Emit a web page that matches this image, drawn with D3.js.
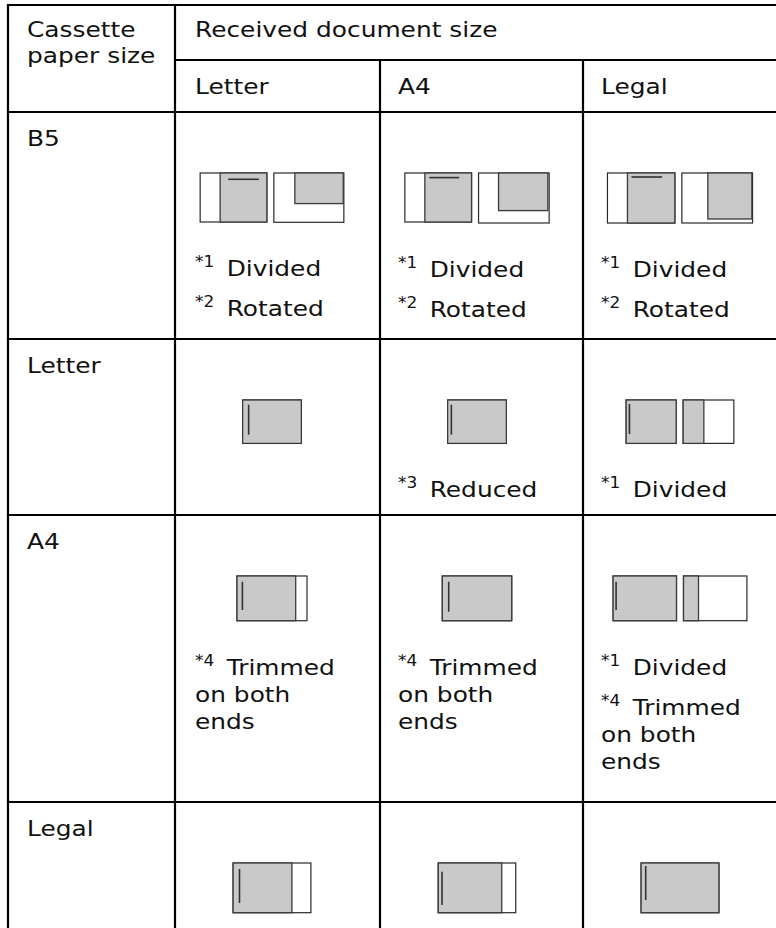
<!DOCTYPE html>
<html><head><meta charset="utf-8">
<script src="https://cdn.jsdelivr.net/npm/d3@7"></script>
<style>html,body{margin:0;padding:0;background:#fff;} svg{display:block;}</style>
</head><body>
<svg id="chart" width="776" height="928"></svg>
<script>
// ---------- data ----------
const cassetteSizes = ["B5", "Letter", "A4", "Legal"];
const receivedSizes = ["Letter", "A4", "Legal"];
const cornerHeader = ["Cassette", "paper size"];
const topHeader = "Received document size";
// notes per cell [row][col]: each note = [footnote mark, ...text lines]
const cellNotes = [
  [[["1","Divided"],["2","Rotated"]], [["1","Divided"],["2","Rotated"]], [["1","Divided"],["2","Rotated"]]],
  [[], [["3","Reduced"]], [["1","Divided"]]],
  [[["4","Trimmed","on both","ends"]], [["4","Trimmed","on both","ends"]], [["1","Divided"],["4","Trimmed","on both","ends"]]],
  [[], [], []]
];
// page pictograms per cell [row][col]: list of pages
// page = {w,h, g:[gx,gy,gw,gh] gray area, l:[x1,y1,x2,y2] printed line}
const cellPages = [
  [
    [{w:66.7,h:49,g:[20,0,46.7,49],l:[28,6.3,58.7,6.3]}, {w:70,h:49.3,g:[21,0,48.4,30.6]}],
    [{w:66.7,h:49,g:[20,0,46.7,49],l:[24.4,4.6,54.4,4.6]}, {w:70.6,h:50,g:[20,0,49.3,37.6]}],
    [{w:67.4,h:50,g:[20,0,47.4,50],l:[24,4,54.7,4]}, {w:70.7,h:50,g:[26,0,44,46]}]
  ],
  [
    [{w:58.7,h:43.4,g:[0,0,58.7,43.4],l:[6,4.7,6,34.7]}],
    [{w:58.7,h:43.4,g:[0,0,58.7,43.4],l:[3.7,4.7,3.7,34.7]}],
    [{w:50,h:43.4,g:[0,0,50,43.4],l:[3.3,4,3.3,34]}, {w:50.7,h:43.4,g:[0,0,20.7,43.4]}]
  ],
  [
    [{w:70,h:44.7,g:[0,0,58.7,44.7],l:[5.4,5.7,5.4,34]}],
    [{w:69.4,h:44.7,g:[0,0,69.4,44.7],l:[6.4,5.7,6.4,35.7]}],
    [{w:63.4,h:44.7,g:[0,0,63.4,44.7],l:[3,5.7,3,34]}, {w:63.4,h:44.7,g:[0,0,15,44.7]}]
  ],
  [
    [{w:77.8,h:49.7,g:[0,0,58.8,49.7],l:[6.4,6,6.4,40]}],
    [{w:77.5,h:49.7,g:[0,0,63.5,49.7],l:[3.8,8.7,3.8,42]}],
    [{w:77.8,h:49.7,g:[0,0,77.8,49.7],l:[4.6,3,4.6,37]}]
  ]
];

// ---------- layout ----------
const svg = d3.select("#chart");
const FONT = "DejaVu Sans";
const FS = 22, SX = 1.13, SUP = 15;
const xCol = d3.scaleOrdinal().domain(["label", ...receivedSizes]).range([8, 175, 380, 583]);
const colRight = 800;
const yRow = d3.scaleOrdinal().domain(["header", ...cassetteSizes]).range([5, 112, 339, 515, 802]);
const headerSplit = 60;
const bottom = 940;
const padL = [19, 20, 18, 18];

function addText(x, y, str, size) {
  return svg.append("text")
    .attr("transform", `translate(${x},${y}) scale(${SX},1)`)
    .attr("font-family", FONT).attr("font-size", size || FS)
    .attr("fill", "#111").text(str);
}
function addNoteLine(x, y, mark, str) {
  const t = svg.append("text")
    .attr("transform", `translate(${x},${y}) scale(${SX},1)`)
    .attr("font-family", FONT).attr("font-size", FS).attr("fill", "#111");
  t.append("tspan").attr("font-size", SUP).attr("dy", -9).text("*" + mark);
  t.append("tspan").attr("dy", 9).attr("dx", 4).text(" " + str);
}

// ---------- text ----------
addText(xCol("label") + padL[0], yRow("header") + 32, cornerHeader[0]);
addText(xCol("label") + padL[0], yRow("header") + 58, cornerHeader[1]);
addText(xCol("Letter") + padL[1], yRow("header") + 32, topHeader);
receivedSizes.forEach((r, i) => addText(xCol(r) + padL[i + 1], headerSplit + 34, r));
cassetteSizes.forEach(c => addText(xCol("label") + padL[0], yRow(c) + 34, c));

// ---------- pictograms + notes ----------
cassetteSizes.forEach((c, ri) => {
  const rowTop = yRow(c);
  receivedSizes.forEach((r, ci) => {
    const pages = cellPages[ri][ci];
    const gap = 7;
    const totalW = d3.sum(pages, p => p.w) + gap * (pages.length - 1);
    const cx = xCol(r) + 97;
    let x = cx - totalW / 2;
    const top = rowTop + 61;
    const maxH = d3.max(pages, p => p.h);
    pages.forEach(p => {
      const g = svg.append("g").attr("transform", `translate(${x},${top})`);
      g.append("rect").attr("x", 0).attr("y", 0).attr("width", p.w).attr("height", p.h)
        .attr("fill", "#fff").attr("stroke", "#2a2a2a").attr("stroke-width", 1.2);
      g.append("rect").attr("x", p.g[0]).attr("y", p.g[1]).attr("width", p.g[2]).attr("height", p.g[3])
        .attr("fill", "#c9c9c9").attr("stroke", "#3a3a3a").attr("stroke-width", 1.3);
      if (p.l) g.append("line").attr("x1", p.l[0]).attr("y1", p.l[1]).attr("x2", p.l[2]).attr("y2", p.l[3])
        .attr("stroke", "#333").attr("stroke-width", 1.6);
      x += p.w + gap;
    });
    let y = top + maxH + 54;
    cellNotes[ri][ci].forEach(note => {
      addNoteLine(xCol(r) + padL[ci + 1], y, note[0], note[1]);
      note.slice(2).forEach(line => { y += 27; addText(xCol(r) + padL[ci + 1], y, line); });
      y += 40;
    });
  });
});

// ---------- grid ----------
const grid = svg.append("g").attr("stroke", "#000").attr("stroke-width", 2.2);
const hl = (x1, x2, y) => grid.append("line").attr("x1", x1).attr("x2", x2).attr("y1", y).attr("y2", y);
const vl = (x, y1, y2) => grid.append("line").attr("x1", x).attr("x2", x).attr("y1", y1).attr("y2", y2);
hl(xCol("label") - 1.1, colRight, yRow("header"));
hl(xCol("Letter"), colRight, headerSplit);
cassetteSizes.forEach(c => hl(xCol("label") - 1.1, colRight, yRow(c)));
vl(xCol("label"), yRow("header"), bottom);
vl(xCol("Letter"), yRow("header"), bottom);
vl(xCol("A4"), headerSplit, bottom);
vl(xCol("Legal"), headerSplit, bottom);
</script>
</body></html>
